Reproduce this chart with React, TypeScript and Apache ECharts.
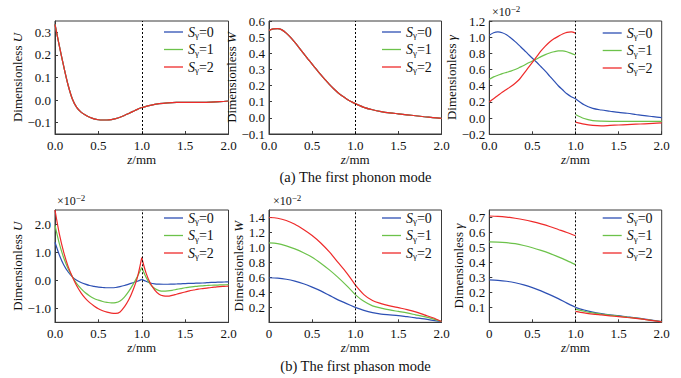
import React, { useEffect, useRef } from 'react';
import * as echarts from 'echarts';

// ---- data grids (z in mm) ----
const zLeftFine = [0, 0.05, 0.1, 0.15, 0.2, 0.25, 0.3, 0.35, 0.4, 0.45, 0.5, 0.55, 0.6, 0.65, 0.7, 0.75, 0.8, 0.85, 0.9, 0.95, 1.0];
const zRightFine = [1.0, 1.05, 1.1, 1.15, 1.2, 1.25, 1.3, 1.35, 1.4, 1.45, 1.5, 1.55, 1.6, 1.65, 1.7, 1.75, 1.8, 1.85, 1.9, 1.95, 2.0];
const zLeftCoarse = [0, 0.1, 0.2, 0.3, 0.4, 0.5, 0.6, 0.7, 0.8, 0.9, 1.0];
const zRightCoarse = [1.0, 1.1, 1.2, 1.3, 1.4, 1.5, 1.6, 1.7, 1.8, 1.9, 2.0];

// (a) phonon mode, U (all S identical)
const phononU_left = [0.335, 0.24, 0.15, 0.068, 0.005, -0.032, -0.053, -0.066, -0.076, -0.083, -0.087, -0.088, -0.088, -0.086, -0.082, -0.076, -0.068, -0.059, -0.05, -0.041, -0.033];
const phononU_right = [-0.033, -0.023, -0.016, -0.012, -0.01, -0.01, -0.01, -0.01, -0.009, -0.007, -0.004];
// (a) phonon mode, W (all S identical)
const phononW_left = [0.542, 0.551, 0.553, 0.545, 0.525, 0.498, 0.467, 0.434, 0.4, 0.366, 0.333, 0.3, 0.268, 0.237, 0.207, 0.18, 0.156, 0.135, 0.117, 0.101, 0.088];
const phononW_right = [0.088, 0.065, 0.05, 0.039, 0.031, 0.025, 0.019, 0.013, 0.007, 0.002, -0.003];
// (a) phonon mode, gamma (x1e-2)
const phononG0_left = [1.025, 1.055, 1.065, 1.055, 1.03, 0.99, 0.945, 0.895, 0.845, 0.79, 0.74, 0.69, 0.635, 0.58, 0.52, 0.46, 0.4, 0.35, 0.3, 0.265, 0.24];
const phononG1_left = [0.48, 0.51, 0.53, 0.55, 0.565, 0.58, 0.6, 0.625, 0.65, 0.68, 0.705, 0.73, 0.76, 0.785, 0.805, 0.82, 0.83, 0.83, 0.82, 0.8, 0.78];
const phononG2_left = [0.2, 0.24, 0.28, 0.32, 0.355, 0.39, 0.43, 0.48, 0.55, 0.62, 0.69, 0.76, 0.83, 0.89, 0.94, 0.98, 1.01, 1.04, 1.06, 1.065, 1.05];
const phononG0_right = [0.24, 0.165, 0.12, 0.1, 0.085, 0.07, 0.06, 0.045, 0.03, 0.018, 0.005];
const phononG1_right = [0.045, -0.005, -0.03, -0.038, -0.04, -0.04, -0.04, -0.04, -0.04, -0.04, -0.04];
const phononG2_right = [-0.05, -0.075, -0.09, -0.095, -0.09, -0.085, -0.08, -0.075, -0.07, -0.065, -0.06];

// (b) phason mode, U (x1e-2)
const phasonU0_left = [1.35, 0.9, 0.55, 0.3, 0.12, 0.0, -0.08, -0.14, -0.19, -0.22, -0.25, -0.26, -0.27, -0.27, -0.26, -0.23, -0.19, -0.14, -0.09, -0.04, 0.03];
const phasonU1_left = [1.95, 1.3, 0.8, 0.42, 0.12, -0.12, -0.3, -0.45, -0.56, -0.65, -0.71, -0.76, -0.79, -0.81, -0.8, -0.74, -0.6, -0.4, -0.15, 0.13, 0.45];
const phasonU2_left = [2.5, 1.65, 1.0, 0.5, 0.12, -0.2, -0.45, -0.65, -0.8, -0.92, -1.02, -1.09, -1.14, -1.17, -1.18, -1.13, -0.95, -0.7, -0.35, 0.1, 0.8];
const phasonU0_right = [0.03, -0.04, -0.1, -0.13, -0.14, -0.145, -0.145, -0.14, -0.135, -0.13, -0.12, -0.115, -0.11, -0.105, -0.1, -0.09, -0.08, -0.075, -0.07, -0.065, -0.06];
const phasonU1_right = [0.45, 0.1, -0.15, -0.3, -0.37, -0.39, -0.38, -0.36, -0.33, -0.3, -0.27, -0.25, -0.23, -0.21, -0.2, -0.19, -0.18, -0.175, -0.17, -0.165, -0.16];
const phasonU2_right = [0.8, 0.25, -0.12, -0.35, -0.5, -0.56, -0.57, -0.54, -0.5, -0.46, -0.42, -0.38, -0.35, -0.32, -0.3, -0.28, -0.26, -0.245, -0.23, -0.22, -0.21];

// (b) phason mode, W (x1e-2)
const phasonW0_left = [0.595, 0.59, 0.575, 0.55, 0.515, 0.47, 0.42, 0.36, 0.3, 0.25, 0.2];
const phasonW1_left = [1.06, 1.05, 1.02, 0.98, 0.93, 0.87, 0.79, 0.7, 0.6, 0.49, 0.37];
const phasonW2_left = [1.4, 1.39, 1.36, 1.31, 1.24, 1.16, 1.06, 0.94, 0.8, 0.66, 0.5];
const phasonW0_right = [0.2, 0.16, 0.13, 0.11, 0.1, 0.09, 0.075, 0.06, 0.045, 0.025, 0.01];
const phasonW1_right = [0.37, 0.28, 0.22, 0.19, 0.165, 0.145, 0.125, 0.1, 0.075, 0.045, 0.01];
const phasonW2_right = [0.5, 0.37, 0.29, 0.25, 0.22, 0.195, 0.17, 0.14, 0.1, 0.06, 0.01];

// (b) phason mode, gamma
const phasonG0_left = [0.283, 0.28, 0.274, 0.264, 0.25, 0.232, 0.21, 0.185, 0.158, 0.128, 0.1];
const phasonG1_left = [0.537, 0.536, 0.532, 0.525, 0.513, 0.498, 0.48, 0.46, 0.437, 0.412, 0.385];
const phasonG2_left = [0.71, 0.708, 0.703, 0.695, 0.685, 0.672, 0.657, 0.64, 0.62, 0.6, 0.578];
const phasonG0_right = [0.1, 0.082, 0.068, 0.058, 0.05, 0.044, 0.037, 0.03, 0.022, 0.013, 0.004];
const phasonG1_right = [0.088, 0.074, 0.063, 0.055, 0.048, 0.042, 0.035, 0.028, 0.02, 0.012, 0.004];
const phasonG2_right = [0.073, 0.063, 0.055, 0.049, 0.043, 0.038, 0.032, 0.026, 0.019, 0.011, 0.003];

// tick labels
const yTicksPhononU = [-0.1, 0, 0.1, 0.2, 0.3];
const yTicksPhononW = [-0.1, 0, 0.1, 0.2, 0.3, 0.4, 0.5, 0.6];
const yTicksPhononG = [-0.2, 0, 0.2, 0.4, 0.6, 0.8, 1.0, 1.2];
const yTicksPhasonU = [-1.0, 0, 1.0, 2.0];
const yTicksPhasonW = [0.2, 0.4, 0.6, 0.8, 1.0, 1.2, 1.4];
const yTicksPhasonG = [0.1, 0.2, 0.3, 0.4, 0.5, 0.6, 0.7];

const seriesNames = ['Sγ=0', 'Sγ=1', 'Sγ=2'];
const colors = ['#2d50b4', '#6cc24a', '#ee2a2a'];
const captions = ['(a) The first phonon mode', '(b) The first phason mode'];

const FONT = 'Liberation Serif';

const panels = [
  { left: 55, top: 21, width: 173.5, height: 113, yMin: -0.15, yMax: 0.35, yTicks: yTicksPhononU, x0: '0.0', yVar: 'U', yGap: 29, zL: zLeftFine, zR: zRightCoarse,
    L: [phononU_left, phononU_left, phononU_left], R: [phononU_right, phononU_right, phononU_right], lg: [164, 25], exp: null as null | number[] },
  { left: 269, top: 21, width: 172.5, height: 113, yMin: -0.1, yMax: 0.6, yTicks: yTicksPhononW, x0: '0.0', yVar: 'W', yGap: 21, zL: zLeftFine, zR: zRightCoarse,
    L: [phononW_left, phononW_left, phononW_left], R: [phononW_right, phononW_right, phononW_right], lg: [382, 25], exp: null },
  { left: 489.3, top: 21, width: 172.4, height: 113.3, yMin: -0.2, yMax: 1.2, yTicks: yTicksPhononG, x0: '0.0', yVar: 'γ', yGap: 24.5, zL: zLeftFine, zR: zRightCoarse,
    L: [phononG0_left, phononG1_left, phononG2_left], R: [phononG0_right, phononG1_right, phononG2_right], lg: [602.7, 26], exp: [492, 4] },
  { left: 55, top: 210, width: 173.5, height: 112.3, yMin: -1.5, yMax: 2.5, yTicks: yTicksPhasonU, x0: '0.0', yVar: 'U', yGap: 29, zL: zLeftFine, zR: zRightFine,
    L: [phasonU0_left, phasonU1_left, phasonU2_left], R: [phasonU0_right, phasonU1_right, phasonU2_right], lg: [164, 211], exp: [57, 193] },
  { left: 269, top: 210, width: 172.5, height: 112.3, yMin: 0, yMax: 1.5, yTicks: yTicksPhasonW, x0: '0', yVar: 'W', yGap: 20, zL: zLeftCoarse, zR: zRightCoarse,
    L: [phasonW0_left, phasonW1_left, phasonW2_left], R: [phasonW0_right, phasonW1_right, phasonW2_right], lg: [382, 211], exp: [273, 193] },
  { left: 489.3, top: 210, width: 172.4, height: 112.3, yMin: 0, yMax: 0.75, yTicks: yTicksPhasonG, x0: '0', yVar: 'γ', yGap: 24.5, zL: zLeftCoarse, zR: zRightCoarse,
    L: [phasonG0_left, phasonG1_left, phasonG2_left], R: [phasonG0_right, phasonG1_right, phasonG2_right], lg: [602.7, 211], exp: null },
];

const fmtY = (v: number) => (v < 0 ? '\u2212' : '') + Math.abs(v).toFixed(1);

function buildOption() {
  const grid: any[] = [];
  const xAxis: any[] = [];
  const yAxis: any[] = [];
  const series: any[] = [];
  const legend: any[] = [];
  const graphic: any[] = [];
  const axisColor = '#3a3a3a';
  const baseText = { fontFamily: FONT, fontSize: 13, color: '#111' };

  panels.forEach((p, gi) => {
    grid.push({ left: p.left, top: p.top, width: p.width, height: p.height, show: true, borderColor: axisColor, borderWidth: 1, backgroundColor: 'transparent' });
    xAxis.push({
      type: 'value', gridIndex: gi, min: 0, max: 2, interval: 0.5,
      name: '{b|z}{a|/mm}', nameLocation: 'middle', nameGap: gi < 3 ? 18 : 17,
      nameTextStyle: { fontFamily: FONT, fontSize: 13, rich: { a: { ...baseText }, b: { ...baseText, fontStyle: 'italic' } } },
      axisLine: { show: true, onZero: false, lineStyle: { color: axisColor, width: 1 } },
      axisTick: { show: true, inside: true, length: 3, lineStyle: { color: axisColor } },
      axisLabel: { ...baseText, margin: 5, formatter: (v: number) => (v === 0 ? p.x0 : v.toFixed(1)) },
      splitLine: { show: false },
    });
    yAxis.push({
      type: 'value', gridIndex: gi, min: p.yMin, max: p.yMax,
      name: '{a|Dimensionless }{b|' + p.yVar + '}', nameLocation: 'middle', nameGap: p.yGap,
      nameTextStyle: { fontFamily: FONT, fontSize: 13, rich: { a: { ...baseText }, b: { ...baseText, fontStyle: 'italic' } } },
      axisLine: { show: true, onZero: false, lineStyle: { color: axisColor, width: 1 } },
      axisTick: { show: true, inside: true, length: 3, lineStyle: { color: axisColor }, customValues: p.yTicks },
      axisLabel: { ...baseText, margin: 4, formatter: fmtY, customValues: p.yTicks, showMinLabel: true, showMaxLabel: true },
      splitLine: { show: false },
    });
    for (let k = 0; k < 3; k++) {
      const parts: [number[], number[]][] = [[p.zL, p.L[k]], [p.zR, p.R[k]]];
      parts.forEach(([zs, vs], part) => {
        series.push({
          type: 'line', name: seriesNames[k], xAxisIndex: gi, yAxisIndex: gi,
          data: zs.map((z, i) => [z, vs[i]]),
          symbol: 'none', smooth: 0.3, clip: true,
          lineStyle: { width: 1.2, color: colors[k] }, itemStyle: { color: colors[k] },
          z: 2 + k,
          markLine: k === 0 && part === 0 ? {
            silent: true, symbol: 'none', label: { show: false },
            lineStyle: { type: [2, 2], color: '#000', width: 1 },
            data: [{ xAxis: 1 }],
          } : undefined,
        });
      });
    }
    legend.push({
      data: seriesNames, orient: 'vertical', left: p.lg[0], top: p.lg[1],
      icon: 'rect', itemWidth: 19, itemHeight: 1.3, itemGap: 3, padding: 0, selectedMode: false,
      formatter: (name: string) => '{i|S}{s|γ}{n|=' + name.slice(-1) + '}',
      textStyle: {
        fontFamily: FONT, fontSize: 14,
        rich: {
          i: { ...baseText, fontSize: 14, fontStyle: 'italic' },
          s: { ...baseText, fontSize: 9, padding: [6, 0, 0, 0] },
          n: { ...baseText, fontSize: 14 },
        },
      },
    });
    if (p.exp) {
      graphic.push({
        type: 'text', left: p.exp[0], top: p.exp[1],
        style: {
          text: '{a|×10}{s|\u22122}',
          font: '12px ' + FONT,
          rich: {
            a: { fontFamily: FONT, fontSize: 12, fill: '#111' },
            s: { fontFamily: FONT, fontSize: 9, fill: '#111', padding: [0, 0, 7, 0] },
          },
        },
      });
    }
  });

  graphic.push({ type: 'text', x: 355.5, y: 177, style: { text: captions[0], font: '14.5px ' + FONT, fill: '#111', textAlign: 'center', textVerticalAlign: 'middle' } });
  graphic.push({ type: 'text', x: 355.5, y: 366, style: { text: captions[1], font: '14.5px ' + FONT, fill: '#111', textAlign: 'center', textVerticalAlign: 'middle' } });

  return { animation: false, backgroundColor: '#fff', textStyle: { fontFamily: FONT, fontSize: 13 }, grid, xAxis, yAxis, series, legend, graphic };
}

export default function App() {
  const ref = useRef<HTMLDivElement>(null);
  useEffect(() => {
    if (!ref.current) return;
    const chart = echarts.init(ref.current, undefined, { renderer: 'svg' });
    chart.setOption(buildOption() as any);
    return () => chart.dispose();
  }, []);
  return <div ref={ref} style={{ position: 'fixed', left: 0, top: 0, width: 681, height: 378 }} />;
}
